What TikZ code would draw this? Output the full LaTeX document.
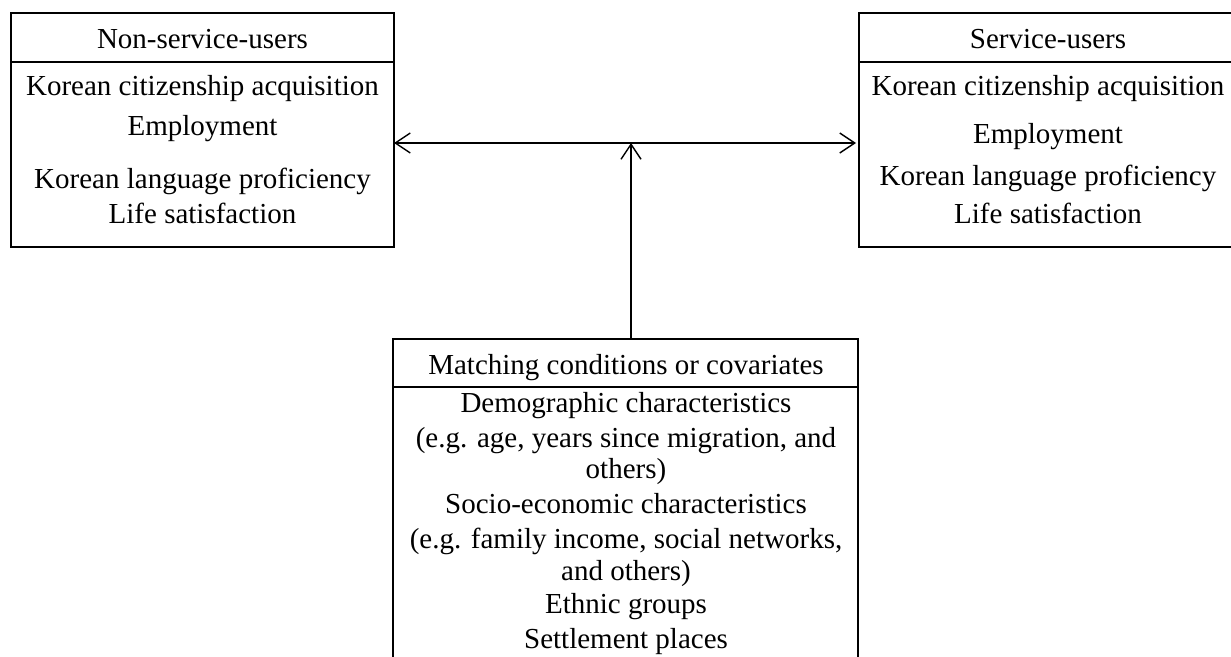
\documentclass[tikz,border=0pt]{standalone}
\usepackage{fontspec}
\setmainfont{Liberation Serif}
\usetikzlibrary{arrows.meta}
\begin{document}
\begin{tikzpicture}[x=1pt,y=-1pt,
  boxr/.style={draw, line width=2pt, inner sep=0pt, outer sep=0pt},
  txt/.style={anchor=base, inner sep=0pt, font=\fontsize{29}{34}\selectfont},
  barb/.tip={Straight Barb[length=15pt,width=20pt,line width=1.4pt]},
  conn/.style={line width=1.4pt},
]
\useasboundingbox (0,0) rectangle (1231,656);
\clip (0,0) rectangle (1231,656);
% left box
\node[boxr, minimum width=383pt, minimum height=49pt] (lhead) at (202.5,37.5) {};
\node[boxr, minimum width=383pt, minimum height=185pt] (lbody) at (202.5,154.5) {};
\node[txt] (l0) at (202.5,48) {Non-service-users};
\node[txt] (l1) at (202.5,95) {Korean citizenship acquisition};
\node[txt] (l2) at (202.5,135) {Employment};
\node[txt] (l3) at (202.5,188) {Korean language proficiency};
\node[txt] (l4) at (202.5,223) {Life satisfaction};
% right box
\node[boxr, minimum width=378pt, minimum height=49pt] (rhead) at (1048,37.5) {};
\node[boxr, minimum width=378pt, minimum height=185pt] (rbody) at (1048,154.5) {};
\node[txt] (r0) at (1048,48) {Service-users};
\node[txt] (r1) at (1048,95) {Korean citizenship acquisition};
\node[txt] (r2) at (1048,143) {Employment};
\node[txt] (r3) at (1048,185) {Korean language proficiency};
\node[txt] (r4) at (1048,223) {Life satisfaction};
% bottom box
\node[boxr, minimum width=465pt, minimum height=48pt] (bhead) at (625.5,363) {};
\node[boxr, minimum width=465pt, minimum height=313pt] (bbody) at (625.5,543.5) {};
\node[txt] (b0) at (626,374) {Matching conditions or covariates};
\node[txt] (b1) at (626,412) {Demographic characteristics};
\node[txt] (b2) at (626,447) {(e.g. age, years since migration, and};
\node[txt] (b3) at (626,478) {others)};
\node[txt] (b4) at (626,513) {Socio-economic characteristics};
\node[txt] (b5) at (626,548) {(e.g. family income, social networks,};
\node[txt] (b6) at (626,580) {and others)};
\node[txt] (b7) at (626,613) {Ethnic groups};
\node[txt] (b8) at (626,648) {Settlement places};
% connectors
\coordinate (hl) at (631,143);
\draw[conn, {barb}-{barb}, shorten >=3pt] (lbody.east |- hl) -- (rbody.west |- hl);
\draw[conn, -{barb}] (bhead.north -| hl) -- (hl);
\end{tikzpicture}
\end{document}
